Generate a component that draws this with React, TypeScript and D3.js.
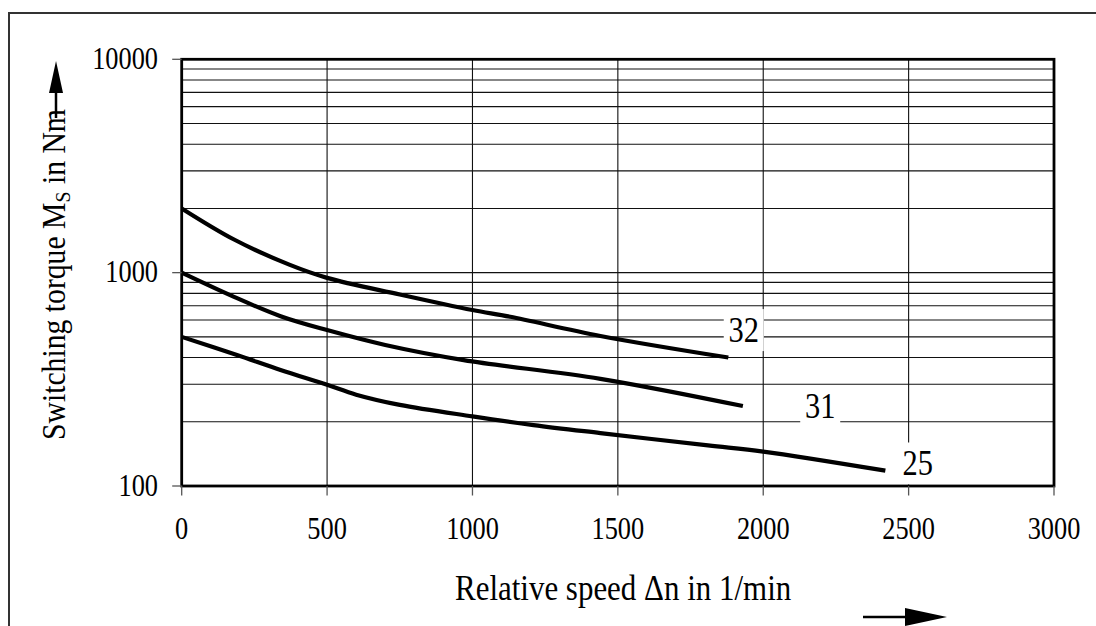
import { useEffect, useRef } from "react";
import * as d3 from "d3";

// curves: relative speed (1/min) vs switching torque (Nm)
const speed32 = [0, 180, 370, 500, 750, 1000, 1130, 1440, 1880];
const torque32 = [2000, 1430, 1090, 945, 790, 668, 621, 505, 400];

const speed31 = [0, 180, 340, 500, 700, 970, 1440, 1930];
const torque31 = [1000, 770, 625, 538, 458, 389, 318, 237];

const speed25 = [0, 190, 340, 500, 600, 750, 1000, 1210, 1440, 1810, 2000, 2420];
const torque25 = [500, 411, 350, 298, 268, 240, 212, 193, 177, 155, 145, 118];

const curveNames = ["32", "31", "25"];
const labelSpeed = [1933, 2196, 2531];
const labelTorque = [538, 237, 127.5];

const xTicks = [0, 500, 1000, 1500, 2000, 2500, 3000];
const yMajor = [100, 1000, 10000];
const yMinor = [200, 300, 400, 500, 600, 700, 800, 900, 2000, 3000, 4000, 5000, 6000, 7000, 8000, 9000];

const FONT = "'Liberation Serif', 'Times New Roman', serif";

export default function App() {
  const ref = useRef<SVGSVGElement>(null);

  useEffect(() => {
    const width = 1096;
    const height = 626;
    const svg = d3.select(ref.current);
    svg.selectAll("*").remove();
    svg.attr("viewBox", `0 0 ${width} ${height}`);

    svg.append("rect").attr("width", width).attr("height", height).attr("fill", "#fff");

    // outer frame, runs off the right and bottom of the page
    svg.append("rect")
      .attr("x", 9).attr("y", 13)
      .attr("width", 1200).attr("height", 700)
      .attr("fill", "none").attr("stroke", "#333").attr("stroke-width", 2);

    const x = d3.scaleLinear().domain([0, 3000]).range([181.7, 1054]);
    const y = d3.scaleLog().domain([100, 10000]).range([486, 59.3]);
    const [x0, x1] = x.range();
    const [y0, y1] = y.range();

    const g = svg.append("g");

    // horizontal grid
    g.selectAll("line.hgrid")
      .data([...yMinor, 1000])
      .join("line")
      .attr("class", "hgrid")
      .attr("x1", x0).attr("x2", x1)
      .attr("y1", d => y(d)).attr("y2", d => y(d))
      .attr("stroke", "#111").attr("stroke-width", 1.1);

    // vertical grid
    g.selectAll("line.vgrid")
      .data(xTicks.slice(1, -1))
      .join("line")
      .attr("class", "vgrid")
      .attr("x1", d => x(d)).attr("x2", d => x(d))
      .attr("y1", y0).attr("y2", y1)
      .attr("stroke", "#111").attr("stroke-width", 1.1);

    // white boxes behind the curve labels
    const labels = curveNames.map((n, i) => ({ name: n, sx: labelSpeed[i], tq: labelTorque[i] }));
    g.selectAll("rect.lblbox")
      .data(labels)
      .join("rect")
      .attr("class", "lblbox")
      .attr("x", d => x(d.sx) - 20)
      .attr("y", d => y(d.tq) - 21)
      .attr("width", 40).attr("height", 42)
      .attr("fill", "#fff");

    // curves
    const series = [
      speed32.map((s, i) => [s, torque32[i]]),
      speed31.map((s, i) => [s, torque31[i]]),
      speed25.map((s, i) => [s, torque25[i]]),
    ];
    const line = d3.line<number[]>()
      .x(d => x(d[0]))
      .y(d => y(d[1]))
      .curve(d3.curveCatmullRom.alpha(0.5));
    g.selectAll("path.curve")
      .data(series)
      .join("path")
      .attr("class", "curve")
      .attr("d", d => line(d))
      .attr("fill", "none")
      .attr("stroke", "#000")
      .attr("stroke-width", 4.2);

    // plot frame
    g.append("rect")
      .attr("x", x0).attr("y", y1)
      .attr("width", x1 - x0).attr("height", y0 - y1)
      .attr("fill", "none").attr("stroke", "#000").attr("stroke-width", 2.8);

    // ticks
    g.selectAll("line.ytick")
      .data(yMajor)
      .join("line")
      .attr("class", "ytick")
      .attr("x1", x0 - 9.5).attr("x2", x0)
      .attr("y1", d => y(d)).attr("y2", d => y(d))
      .attr("stroke", "#555").attr("stroke-width", 1.3);
    g.selectAll("line.xtick")
      .data(xTicks)
      .join("line")
      .attr("class", "xtick")
      .attr("x1", d => x(d)).attr("x2", d => x(d))
      .attr("y1", y0).attr("y2", y0 + 9.5)
      .attr("stroke", "#555").attr("stroke-width", 1.3);

    // tick labels (condensed serif)
    g.selectAll("text.ylab")
      .data(yMajor)
      .join("text")
      .attr("class", "ylab")
      .attr("transform", d => `translate(158,${y(d) + 9.5}) scale(0.85,1)`)
      .attr("text-anchor", "end")
      .attr("font-family", FONT).attr("font-size", 31)
      .text(d => String(d));
    g.selectAll("text.xlab")
      .data(xTicks)
      .join("text")
      .attr("class", "xlab")
      .attr("transform", d => `translate(${x(d)},539) scale(0.85,1)`)
      .attr("text-anchor", "middle")
      .attr("font-family", FONT).attr("font-size", 31)
      .text(d => String(d));

    // curve labels
    g.selectAll("text.clab")
      .data(labels)
      .join("text")
      .attr("class", "clab")
      .attr("transform", d => `translate(${x(d.sx)},${y(d.tq) + 12}) scale(0.87,1)`)
      .attr("text-anchor", "middle")
      .attr("font-family", FONT).attr("font-size", 35)
      .text(d => d.name);

    // x title + arrow
    svg.append("text")
      .attr("transform", "translate(455,600) scale(0.86,1)")
      .attr("font-family", FONT).attr("font-size", 36)
      .text("Relative speed \u0394n in 1/min");
    svg.append("line")
      .attr("x1", 863).attr("x2", 912).attr("y1", 617).attr("y2", 617)
      .attr("stroke", "#000").attr("stroke-width", 2.5);
    svg.append("path")
      .attr("d", "M905,608 L947,617 L905,626 Z")
      .attr("fill", "#000");

    // y title + arrow
    const yt = svg.append("text")
      .attr("transform", "translate(65,440) rotate(-90) scale(0.9,1)")
      .attr("font-family", FONT).attr("font-size", 33);
    yt.append("tspan").text("Switching torque M");
    yt.append("tspan").attr("font-size", 22).attr("dy", 5).text("S");
    yt.append("tspan").attr("dy", -5).text(" in Nm");
    svg.append("line")
      .attr("x1", 56).attr("x2", 56).attr("y1", 118).attr("y2", 90)
      .attr("stroke", "#000").attr("stroke-width", 2.5);
    svg.append("path")
      .attr("d", "M49,93 L56,61 L63,93 Z")
      .attr("fill", "#000");
  }, []);

  return (
    <div style={{ position: "absolute", left: 0, top: 0, background: "#fff" }}>
      <svg ref={ref} width={1096} height={626} style={{ display: "block" }} />
    </div>
  );
}
